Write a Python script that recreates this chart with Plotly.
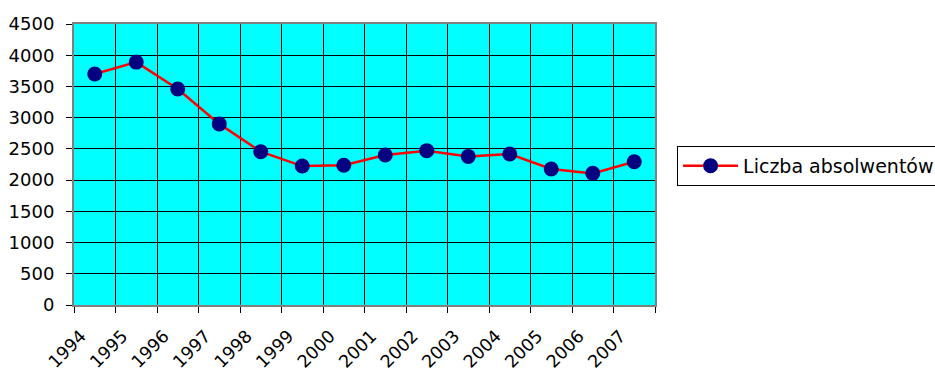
import plotly.graph_objects as go

# Liczba absolwentów w latach 1994-2007
years = ["1994", "1995", "1996", "1997", "1998", "1999", "2000",
         "2001", "2002", "2003", "2004", "2005", "2006", "2007"]
graduates = [3700, 3890, 3460, 2900, 2455, 2225, 2237,
             2402, 2472, 2380, 2418, 2178, 2108, 2295]
y_ticks = [0, 500, 1000, 1500, 2000, 2500, 3000, 3500, 4000, 4500]

n = len(years)
# points sit in the middle of each category slot, labels on slot boundaries
x_pos = [i + 0.5 for i in range(n)]
tick_pos = list(range(n + 1))
tick_text = years + [""]

FONT = "DejaVu Sans"

fig = go.Figure()
fig.add_trace(go.Scatter(
    x=x_pos,
    y=graduates,
    mode="lines+markers",
    name="Liczba absolwentów",
    line=dict(color="#FF0000", width=2.5),
    marker=dict(color="#000080", size=15, line=dict(width=0)),
))

fig.update_layout(
    width=935,
    height=372,
    margin=dict(l=74, r=280, t=24, b=67, autoexpand=False),
    paper_bgcolor="white",
    plot_bgcolor="#00FFFF",
    font=dict(family=FONT, size=18, color="black"),
    showlegend=True,
    legend=dict(
        x=1.038,
        y=0.566,
        xanchor="left",
        yanchor="top",
        bgcolor="white",
        bordercolor="black",
        borderwidth=1,
        font=dict(family=FONT, size=19, color="black"),
        itemwidth=55,
    ),
)

fig.update_xaxes(
    range=[0, n],
    tickmode="array",
    tickvals=tick_pos,
    ticktext=tick_text,
    tickangle=-45,
    tickfont=dict(family=FONT, size=17.5, color="black"),
    ticks="outside",
    ticklen=6,
    tickcolor="black",
    ticklabelstandoff=6,
    ticklabelshift=7,
    automargin=False,
    showgrid=True,
    gridcolor="black",
    gridwidth=1,
    showline=True,
    linecolor="#808080",
    linewidth=2,
    mirror=True,
    zeroline=False,
)

fig.update_yaxes(
    range=[0, 4500],
    tickmode="array",
    tickvals=y_ticks,
    ticks="outside",
    ticklen=6,
    tickcolor="black",
    ticklabelstandoff=8,
    automargin=False,
    showgrid=True,
    gridcolor="black",
    gridwidth=1,
    showline=True,
    linecolor="#808080",
    linewidth=2,
    mirror=True,
    zeroline=False,
)

fig.write_html("out.html")
